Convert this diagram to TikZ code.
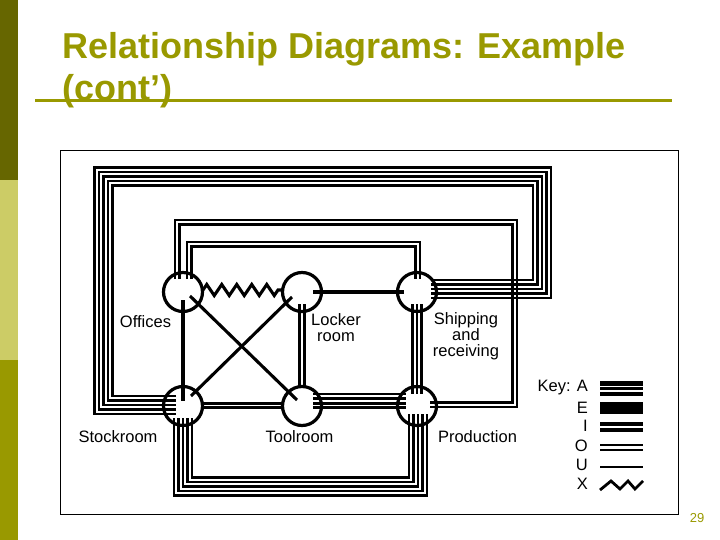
\documentclass[tikz,border=0pt]{standalone}
\usepackage{fontspec}
\setmainfont{Liberation Sans}
\usetikzlibrary{calc,decorations.pathmorphing}
\definecolor{olivetitle}{RGB}{153,153,0}
\definecolor{bartop}{RGB}{102,102,0}
\definecolor{barmid}{RGB}{204,204,102}
\definecolor{barbot}{RGB}{153,153,0}
\tikzset{
  room/.style={circle, draw, line width=3.2pt, minimum size=39pt, inner sep=0pt},
  wire/.style={line width=2.9pt},
  single/.style={line width=3.1pt},
  lbl/.style={font=\fontsize{16.5}{16}\selectfont, align=center, inner sep=0pt},
  keylbl/.style={font=\fontsize{16.5}{16}\selectfont, anchor=east, inner sep=0pt},
}
\begin{document}
\begin{tikzpicture}[x=1pt,y=-1pt]
\useasboundingbox (0,0) rectangle (720,540);
% side bar
\fill[bartop] (0,0) rectangle (18,180);
\fill[barmid] (0,180) rectangle (18,360);
\fill[barbot] (0,360) rectangle (18,540);
% title
\node[anchor=base west, inner sep=0pt, text=olivetitle, font=\bfseries\fontsize{36}{40}\selectfont] (t1) at (62,59) {Relationship Diagrams: Example};
\node[anchor=base west, inner sep=0pt, text=olivetitle, font=\bfseries\fontsize{36}{40}\selectfont] (t2) at (62,101) {(cont’)};
\draw[olivetitle, line width=3pt] (35,101) -- (672,101);
% frame
\draw[line width=0.8pt] (60,150) rectangle (678,514);
% rooms
\node[room] (off) at (183,292) {};
\node[room] (lock) at (302,292) {};
\node[room] (ship) at (417,292) {};
\node[room] (stock) at (183,406) {};
\node[room] (tool) at (302,406) {};
\node[room] (prod) at (417,406) {};
% Stockroom - Shipping (5 lines)
\foreach \i in {0,...,4}{
  \pgfmathsetmacro\d{\i*4.5}
  \draw[wire] ($(stock)+(-7,8-\d)$) -| (94.5+\d,167.5+\d) -| (551-\d,298-\d) -- ($(ship)+(14,6-\d)$);
}
% Stockroom - Production (5 lines)
\foreach \i in {0,...,4}{
  \pgfmathsetmacro\d{\i*4.5}
  \draw[wire] ($(stock)+(-9+\d,12)$) |- (427-\d,495.5-\d) -- ($(prod)+(10-\d,8)$);
}
% Offices - Production (2 lines)
\foreach \i in {0,1}{
  \pgfmathsetmacro\d{\i*4.6}
  \draw[wire] ($(off)+(-8+\d,-13)$) |- (517-\d,220+\d) |- (430,407-\d) -- ($(prod)+(13,1-\d)$);
}
% Offices - Shipping (2 lines)
\foreach \i in {0,1}{
  \pgfmathsetmacro\d{\i*4.6}
  \draw[wire] ($(off)+(4+\d,-13)$) |- (420-\d,242+\d) -- ($(ship)+(3-\d,-13)$);
}
% Shipping - Production (3 lines)
\foreach \i in {-1,0,1}{
  \draw[wire] ($(ship)+(4.4*\i,12)$) -- ($(prod)+(4.4*\i,-12)$);
}
% Toolroom - Production (4 lines)
\foreach \i in {0,...,3}{
  \draw[wire] ($(tool)+(11,-12+4.6*\i)$) -- ($(prod)+(-11,-12+4.6*\i)$);
}
% Locker - Toolroom (2 lines)
\foreach \i in {-1,1}{
  \draw[wire] ($(lock)+(2.4*\i,12)$) -- ($(tool)+(2.4*\i,-18)$);
}
% Stockroom - Toolroom (2 lines)
\foreach \i in {-1,1}{
  \draw[wire] ($(stock)+(19,-0.5+2.4*\i)$) -- ($(tool)+(-19,-0.5+2.4*\i)$);
}
% single lines
\draw[single] ($(off)+(0,8)$) -- ($(stock)+(0,-5)$);
\draw[single] ($(lock)+(11,0)$) -- ($(ship)+(-13,0)$);
\draw[single] ($(off)+(7,4)$) -- ($(tool)+(-5,-6)$);
\draw[single] ($(lock)+(-10,5)$) -- ($(stock)+(8,-10)$);
% zigzag
\draw[single, decorate, decoration={zigzag, segment length=15pt, amplitude=5.5pt}] ($(off)+(20,-2)$) -- ($(lock)+(-19,-2)$);
% labels
\node[lbl] (loff) at (145.5,322) {Offices};
\node[lbl] (llock) at (336,328) {Locker\\room};
\node[lbl] (lship) at (466,336) {Shipping\\and\\receiving};
\node[lbl] (lstock) at (118,437) {Stockroom};
\node[lbl] (ltool) at (299.5,437) {Toolroom};
\node[lbl] (lprod) at (477.5,437) {Production};
% key
\node[keylbl] (kA) at (588,388) {Key: A};
\node[keylbl] (kE) at (588,408) {E};
\node[keylbl] (kI) at (588,426) {I};
\node[keylbl] (kO) at (588,446) {O};
\node[keylbl] (kU) at (588,465) {U};
\node[keylbl] (kX) at (588,484) {X};
\fill (600,381) rectangle (643,396);
\fill[white] (600,385.8) rectangle (643,387.2);
\fill[white] (600,390.3) rectangle (643,391.7);
\fill (600,402) rectangle (643,414);
\fill (600,422) rectangle (643,432);
\fill[white] (600,426.4) rectangle (643,427.6);
\draw[line width=2.4pt] (600,445) -- (643,445);
\draw[line width=2.4pt] (600,450) -- (643,450);
\draw[line width=2.8pt] (600,467) -- (643,467);
\draw[line width=2.8pt] (600,490) -- (611,481) -- (620,489) -- (628,481) -- (635,489) -- (643,481);
% page number
\node[text=olivetitle, font=\fontsize{13}{13}\selectfont, inner sep=0pt] (pg) at (697,518) {29};
\end{tikzpicture}
\end{document}
